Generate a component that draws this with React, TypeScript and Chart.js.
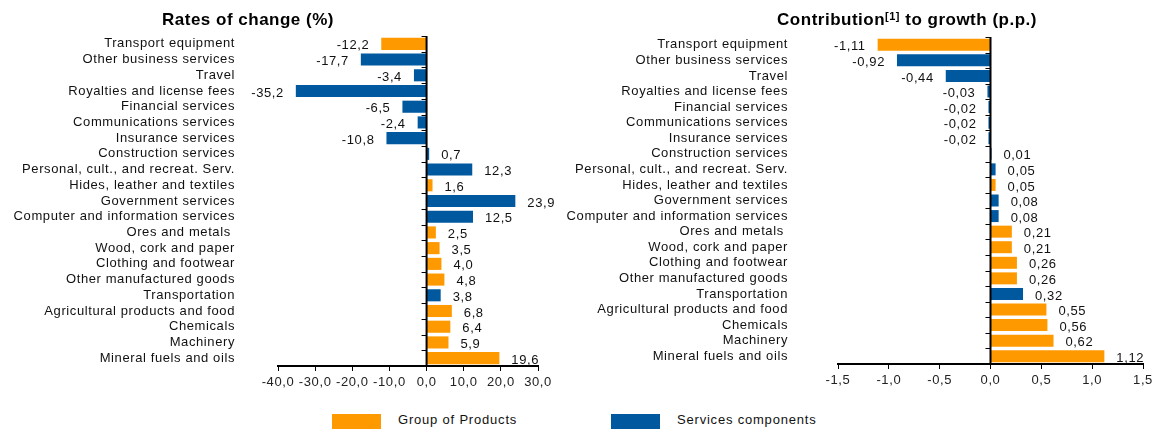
import React, { useEffect, useRef } from "react";
import { Chart, registerables } from "chart.js";

Chart.register(...registerables);

const categories = [
  "Transport equipment",
  "Other business services",
  "Travel",
  "Royalties and license fees",
  "Financial services",
  "Communications services",
  "Insurance services",
  "Construction services",
  "Personal, cult., and recreat. Serv.",
  "Hides, leather and textiles",
  "Government services",
  "Computer and information services",
  "Ores and metals ",
  "Wood, cork and paper",
  "Clothing and footwear",
  "Other manufactured goods",
  "Transportation",
  "Agricultural products and food",
  "Chemicals",
  "Machinery",
  "Mineral fuels and oils",
];

// P = Group of Products, S = Services components
const groups = ["P", "S", "S", "S", "S", "S", "S", "S", "S", "P", "S", "S", "P", "P", "P", "P", "S", "P", "P", "P", "P"];

const ratesOfChange = [-12.2, -17.7, -3.4, -35.2, -6.5, -2.4, -10.8, 0.7, 12.3, 1.6, 23.9, 12.5, 2.5, 3.5, 4.0, 4.8, 3.8, 6.8, 6.4, 5.9, 19.6];

const contributions = [-1.11, -0.92, -0.44, -0.03, -0.02, -0.02, -0.02, 0.01, 0.05, 0.05, 0.08, 0.08, 0.21, 0.21, 0.26, 0.26, 0.32, 0.55, 0.56, 0.62, 1.12];

const leftTicks = { min: -40, max: 30, step: 10, decimals: 1, labelDecimals: 1 };
const rightTicks = { min: -1.5, max: 1.5, step: 0.5, decimals: 1, labelDecimals: 2 };

const legendLabels = ["Group of Products", "Services components"];

const ORANGE = "#FF9900";
const BLUE = "#00599F";
const FONT = "'Liberation Sans', Arial, sans-serif";

const fmt = (v: number, d: number) => v.toFixed(d).replace(".", ",").replace(/^-0,0+$/, "0,0");

const spacingPlugin = {
  id: "spacing",
  beforeInit(chart: any) {
    chart.ctx.letterSpacing = "0.6px";
  },
  beforeDraw(chart: any) {
    chart.ctx.letterSpacing = "0.6px";
  },
};

function makeOverlayPlugin(labelDecimals: number) {
  return {
    id: "overlay",
    afterDatasetsDraw(chart: any) {
      const { ctx, chartArea } = chart;
      const xs = chart.scales.x;
      const x0 = xs.getPixelForValue(0);
      const n = categories.length;
      const h = (chartArea.bottom - chartArea.top) / n;
      ctx.save();
      ctx.strokeStyle = "#000";
      ctx.lineWidth = 2;
      ctx.beginPath();
      ctx.moveTo(x0, chartArea.top);
      ctx.lineTo(x0, chartArea.bottom);
      ctx.stroke();
      ctx.lineWidth = 1;
      for (let i = 0; i <= n; i++) {
        const y = Math.round(chartArea.top + i * h) + 0.5;
        ctx.beginPath();
        ctx.moveTo(x0 - 5, y);
        ctx.lineTo(x0, y);
        ctx.stroke();
      }
      const meta = chart.getDatasetMeta(0);
      const values = chart.data.datasets[0].data as number[];
      ctx.font = `13px ${FONT}`;
      ctx.letterSpacing = "0.6px";
      ctx.fillStyle = "#111";
      ctx.textBaseline = "middle";
      meta.data.forEach((bar: any, i: number) => {
        const v = values[i];
        const txt = fmt(v, labelDecimals);
        if (v < 0) {
          ctx.textAlign = "right";
          ctx.fillText(txt, bar.x - 12, bar.y + 2);
        } else {
          ctx.textAlign = "left";
          ctx.fillText(txt, bar.x + 12, bar.y + 2);
        }
      });
      ctx.restore();
    },
  };
}

function BarPanel(props: {
  values: number[];
  ticks: { min: number; max: number; step: number; decimals: number; labelDecimals: number };
  width: number;
  height: number;
  yWidth: number;
  labelPad: number;
  padTop: number;
  padRight: number;
  xHeight: number;
}) {
  const ref = useRef<HTMLCanvasElement | null>(null);
  useEffect(() => {
    if (!ref.current) return;
    const { values, ticks } = props;
    const chart = new Chart(ref.current, {
      type: "bar",
      data: {
        labels: categories,
        datasets: [
          {
            data: values,
            backgroundColor: groups.map((g) => (g === "P" ? ORANGE : BLUE)),
            borderWidth: 0,
            barPercentage: 0.77,
            categoryPercentage: 1.0,
          },
        ],
      },
      options: {
        indexAxis: "y",
        responsive: false,
        animation: false,
        layout: { padding: { top: props.padTop, right: props.padRight, left: 0, bottom: 0 } },
        plugins: { legend: { display: false }, tooltip: { enabled: false }, title: { display: false } },
        scales: {
          x: {
            min: ticks.min,
            max: ticks.max,
            afterFit: (s: any) => {
              s.height = props.xHeight;
            },
            ticks: {
              stepSize: ticks.step,
              color: "#222",
              font: { family: FONT, size: 13 },
              padding: 4,
              maxRotation: 0,
              callback: (v: any) => fmt(Number(v), ticks.decimals),
            },
            grid: {
              display: true,
              drawOnChartArea: false,
              drawTicks: true,
              tickLength: 5,
              color: "#000",
              lineWidth: 1,
            },
            border: { display: true, color: "#000", width: 2 },
          },
          y: {
            afterFit: (s: any) => {
              s.width = props.yWidth;
            },
            ticks: {
              color: "#111",
              font: { family: FONT, size: 13 },
              padding: 0,
              autoSkip: false,
            },
            grid: { display: false, drawTicks: true, tickLength: props.labelPad },
            border: { display: false },
          },
        },
      },
      plugins: [spacingPlugin, makeOverlayPlugin(ticks.labelDecimals)],
    } as any);
    return () => chart.destroy();
  }, []);
  return <canvas ref={ref} width={props.width} height={props.height} />;
}

export default function App() {
  const titleStyle: React.CSSProperties = {
    position: "absolute",
    top: 9,
    fontFamily: FONT,
    fontWeight: "bold",
    fontSize: 17,
    color: "#000",
    whiteSpace: "nowrap",
    lineHeight: "22px",
    letterSpacing: "0.5px",
    transform: "translateX(-50%)",
  };
  const legendText: React.CSSProperties = {
    position: "absolute",
    top: 412,
    fontFamily: FONT,
    fontSize: 13,
    color: "#111",
    whiteSpace: "nowrap",
    lineHeight: "16px",
    letterSpacing: "0.8px",
  };
  return (
    <div style={{ position: "fixed", left: 0, top: 0, width: 1159, height: 430, background: "#fff", overflow: "hidden" }}>
      <div style={{ position: "absolute", left: 0, top: 0 }}>
        <BarPanel values={ratesOfChange} ticks={leftTicks} width={560} height={400} yWidth={278} labelPad={43} padTop={36} padRight={22} xHeight={34} />
      </div>
      <div style={{ position: "absolute", left: 560, top: 0 }}>
        <BarPanel values={contributions} ticks={rightTicks} width={599} height={400} yWidth={278} labelPad={50} padTop={37} padRight={16} xHeight={36} />
      </div>
      <div style={{ ...titleStyle, left: 248 }}>Rates of change (%)</div>
      <div style={{ ...titleStyle, left: 907 }}>
        Contribution<sup style={{ fontSize: 11, verticalAlign: "top", lineHeight: "14px" }}>[1]</sup> to growth (p.p.)
      </div>
      <div style={{ position: "absolute", left: 332, top: 414, width: 49, height: 15, background: ORANGE }} />
      <div style={{ ...legendText, left: 398 }}>{legendLabels[0]}</div>
      <div style={{ position: "absolute", left: 611, top: 414, width: 49, height: 15, background: BLUE }} />
      <div style={{ ...legendText, left: 677 }}>{legendLabels[1]}</div>
    </div>
  );
}
